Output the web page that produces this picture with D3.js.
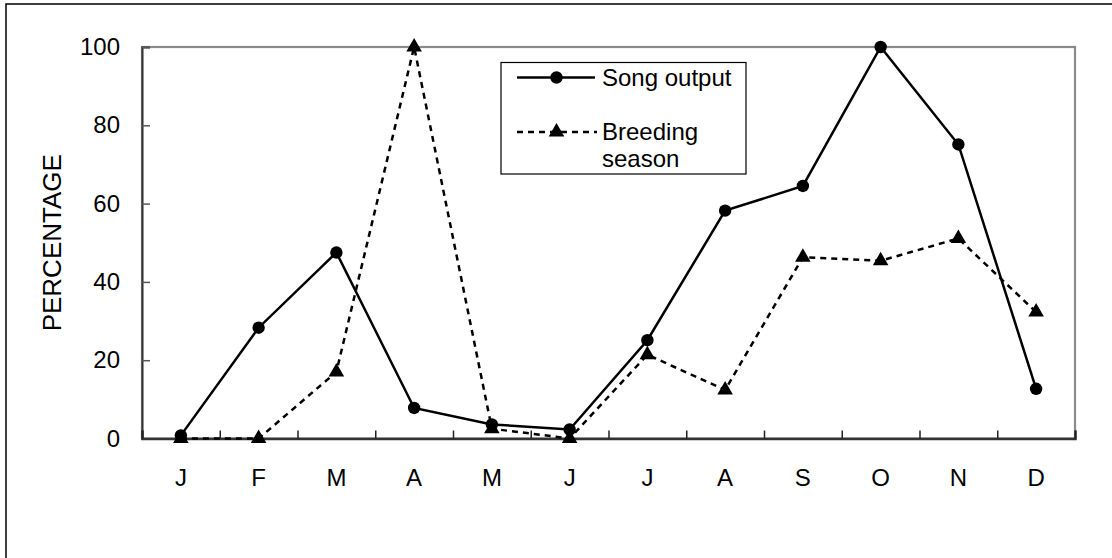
<!DOCTYPE html>
<html>
<head>
<meta charset="utf-8">
<script src="https://cdn.jsdelivr.net/npm/d3@7"></script>
<style>
html,body{margin:0;padding:0;background:#fff;}
svg{display:block;}
text{font-family:"Liberation Sans", Arial, sans-serif;fill:#000;}
</style>
</head>
<body>
<svg id="chart" width="1112" height="558"></svg>
<script>
const months = ["J","F","M","A","M","J","J","A","S","O","N","D"];
const songOutput = [0.8, 28.3, 47.5, 7.8, 3.6, 2.3, 25.1, 58.2, 64.5, 100, 75.1, 12.7];
const breedingSeason = [0, 0, 17, 100, 2.5, 0, 21.4, 12.4, 46.3, 45.4, 51.1, 32.3];
const yTicks = [0, 20, 40, 60, 80, 100];
const seriesNames = ["Song output", "Breeding season"];

const svg = d3.select("#chart");
const W = 1112, H = 558;
const plot = {left: 142, top: 47, right: 1075, bottom: 438.5};

// outer frame (extends past the image on right & bottom)
svg.append("rect").attr("x", 6).attr("y", 4).attr("width", W + 20).attr("height", H + 20)
  .attr("fill", "none").attr("stroke", "#000").attr("stroke-width", 1.5);

const idx = d3.range(months.length);
const x = d3.scaleBand().domain(idx).range([plot.left, plot.right]).paddingInner(0).paddingOuter(0);
const y = d3.scaleLinear().domain([0, 100]).range([plot.bottom, plot.top]);
const cx = i => x(i) + x.bandwidth() / 2;

// plot area border (top/right gray)
svg.append("rect").attr("x", plot.left).attr("y", plot.top)
  .attr("width", plot.right - plot.left).attr("height", plot.bottom - plot.top)
  .attr("fill", "none").attr("stroke", "#8a8a8a").attr("stroke-width", 2.2);

// Y axis
const yAxis = d3.axisLeft(y).tickValues(yTicks).tickSize(-8).tickPadding(22).tickFormat(d3.format("d"));
const gy = svg.append("g").attr("transform", `translate(${plot.left},0)`).call(yAxis);
gy.select(".domain").attr("stroke", "#333").attr("stroke-width", 2);
gy.selectAll(".tick line").attr("stroke", "#555").attr("stroke-width", 1.5);
gy.selectAll(".tick text").attr("font-size", 24).attr("font-family", '"Liberation Sans", Arial, sans-serif').attr("fill", "#000");

// X axis: ticks at band boundaries, labels centred in bands
const xLin = d3.scaleLinear().domain([0, months.length]).range([plot.left, plot.right]);
const xAxis = d3.axisBottom(xLin).tickValues(d3.range(months.length + 1)).tickSize(-8).tickFormat("");
const gx = svg.append("g").attr("transform", `translate(0,${plot.bottom})`).call(xAxis);
gx.select(".domain").attr("stroke", "#333").attr("stroke-width", 2.5);
gx.selectAll(".tick line").attr("stroke", "#222").attr("stroke-width", 1.5);

svg.append("g").selectAll("text").data(idx).join("text")
  .attr("x", d => cx(d)).attr("y", plot.bottom + 47)
  .attr("text-anchor", "middle").attr("font-size", 24)
  .text(d => months[d]);

// Y label
svg.append("text")
  .attr("transform", `translate(61,${(plot.top + plot.bottom) / 2}) rotate(-90)`)
  .attr("text-anchor", "middle").attr("font-size", 26)
  .text("PERCENTAGE");

// lines
const line = d3.line().x((d, i) => cx(i)).y(d => y(d));
svg.append("path").datum(breedingSeason).attr("d", line)
  .attr("fill", "none").attr("stroke", "#000").attr("stroke-width", 2.5)
  .attr("stroke-dasharray", "6,5");
svg.append("path").datum(songOutput).attr("d", line)
  .attr("fill", "none").attr("stroke", "#000").attr("stroke-width", 2.5);

const tri = d3.symbol().type(d3.symbolTriangle).size(105);
svg.append("g").selectAll("path").data(breedingSeason).join("path")
  .attr("d", tri).attr("transform", (d, i) => `translate(${cx(i)},${y(d)})`).attr("fill", "#000");
svg.append("g").selectAll("circle").data(songOutput).join("circle")
  .attr("cx", (d, i) => cx(i)).attr("cy", d => y(d)).attr("r", 6.2).attr("fill", "#000");

// legend
const lg = svg.append("g");
lg.append("rect").attr("x", 501).attr("y", 62.5).attr("width", 245).attr("height", 111.5)
  .attr("fill", "#fff").attr("stroke", "#000").attr("stroke-width", 1.2);
lg.append("line").attr("x1", 517).attr("x2", 595).attr("y1", 77.5).attr("y2", 77.5)
  .attr("stroke", "#000").attr("stroke-width", 2.5);
lg.append("circle").attr("cx", 556.5).attr("cy", 77.5).attr("r", 6.2).attr("fill", "#000");
lg.append("text").attr("x", 602).attr("y", 86).attr("font-size", 24).text(seriesNames[0]);
lg.append("line").attr("x1", 517).attr("x2", 597).attr("y1", 132).attr("y2", 132)
  .attr("stroke", "#000").attr("stroke-width", 2.5).attr("stroke-dasharray", "6,5");
lg.append("path").attr("d", tri).attr("transform", "translate(556.5,132)").attr("fill", "#000");
lg.append("text").attr("x", 602).attr("y", 140).attr("font-size", 24).text("Breeding");
lg.append("text").attr("x", 602).attr("y", 167).attr("font-size", 24).text("season");
</script>
</body>
</html>
